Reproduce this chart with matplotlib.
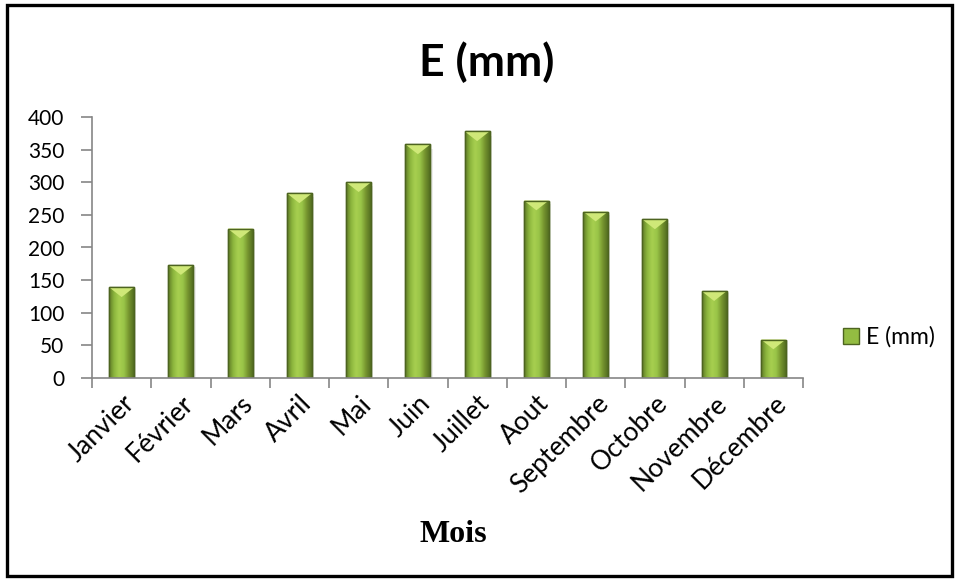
import matplotlib
matplotlib.use('Agg')
import matplotlib.pyplot as plt
import matplotlib.patches as mpatches
import matplotlib.transforms as mtransforms
from matplotlib.colors import LinearSegmentedColormap
import numpy as np

# Monthly evaporation values
mois = ['Janvier', 'Février', 'Mars', 'Avril', 'Mai', 'Juin', 'Juillet',
        'Aout', 'Septembre', 'Octobre', 'Novembre', 'Décembre']
evap = [139, 173, 229, 283, 300, 358, 378, 272, 255, 243, 133, 59]
y_ticks = [0, 50, 100, 150, 200, 250, 300, 350, 400]
serie = 'E (mm)'

W, H = 958, 581
fig = plt.figure(figsize=(W / 100, H / 100), dpi=100)
ax = fig.add_axes([92 / W, (H - 378) / H, (803 - 92) / W, (378 - 117) / H])

axis_grey = '#868686'
sans = 'Lato'

bars = ax.bar(range(len(mois)), evap, width=0.42, color='#93bc42',
              edgecolor='#4d6420', linewidth=1.0, zorder=2)

# horizontal shading across each bar, plus a bevelled top
shade = LinearSegmentedColormap.from_list(
    'bar', ['#5f7a26', '#8cb63d', '#a7cf50', '#9ac548', '#76952f', '#536e21'])
grad = np.linspace(0, 1, 64).reshape(1, -1)
for b in bars:
    x0, y0 = b.get_x(), b.get_y()
    w, h = b.get_width(), b.get_height()
    im = ax.imshow(grad, cmap=shade, aspect='auto', extent=(x0, x0 + w, y0, y0 + h),
                   zorder=2.1, interpolation='bicubic')
    im.set_clip_path(b)
    # soft drop shadow on the right
    ax.add_patch(mpatches.Rectangle((x0 + w, y0), 0.04, h * 0.98,
                                    facecolor='#000000', alpha=0.07,
                                    linewidth=0, zorder=1.9))
    tri_h = 15.0
    ax.add_patch(mpatches.Polygon([(x0, y0 + h), (x0 + w, y0 + h),
                                   (x0 + w * 0.5, y0 + h - tri_h)],
                                  closed=True, facecolor='#cfe878',
                                  edgecolor='none', zorder=2.3))
    ax.add_patch(mpatches.Rectangle((x0, y0), w, h, facecolor='none',
                                    edgecolor='#4d6420', linewidth=1.0, zorder=2.4))

ax.set_xlim(-0.5, len(mois) - 0.5)
ax.set_ylim(0, 400)
ax.set_yticks(y_ticks)
ax.set_yticklabels([str(t) for t in y_ticks], fontsize=15, family=sans)

ax.set_xticks(range(len(mois)))
ax.set_xticklabels(mois, rotation=45, ha='right', va='top',
                   rotation_mode='anchor', fontsize=19, family=sans)
# pull the slanted labels a little to the left so they end under their tick
shift = mtransforms.ScaledTranslation(-10 / 100, 0, fig.dpi_scale_trans)
for lbl in ax.get_xticklabels():
    lbl.set_transform(lbl.get_transform() + shift)
ax.set_xticks(np.arange(-0.5, len(mois)), minor=True)
ax.tick_params(axis='x', which='major', length=0, pad=9)
ax.tick_params(axis='x', which='minor', length=7, width=1.2, color=axis_grey)
ax.tick_params(axis='y', length=8, width=1.2, color=axis_grey, pad=12)

for side in ('top', 'right'):
    ax.spines[side].set_visible(False)
for side in ('left', 'bottom'):
    ax.spines[side].set_color(axis_grey)
    ax.spines[side].set_linewidth(1.2)

ax.set_xlabel('Mois', family='Liberation Serif', fontweight='bold',
              fontsize=23, va='center')
ax.xaxis.set_label_coords((453 - 92) / (803 - 92), (378 - 535) / (378 - 117))

fig.text(487 / W, (H - 62) / H, serie, ha='center', va='center',
         family=sans, fontweight='bold', fontsize=32)

handle = mpatches.Patch(facecolor='#93bc42', edgecolor='#4d6420', label=serie)
fig.legend(handles=[handle], loc='center left', bbox_to_anchor=(843 / W, (H - 337) / H),
           frameon=False, borderpad=0, borderaxespad=0,
           prop={'family': sans, 'size': 16.5},
           handlelength=0.7, handleheight=0.7, handletextpad=0.3)

# chart frame
fig.add_artist(mpatches.Rectangle((7 / W, 5 / H), (W - 13) / W, (H - 10) / H,
                                  transform=fig.transFigure, fill=False,
                                  edgecolor='black', linewidth=2.4))

fig.savefig('out.png', dpi=100)
